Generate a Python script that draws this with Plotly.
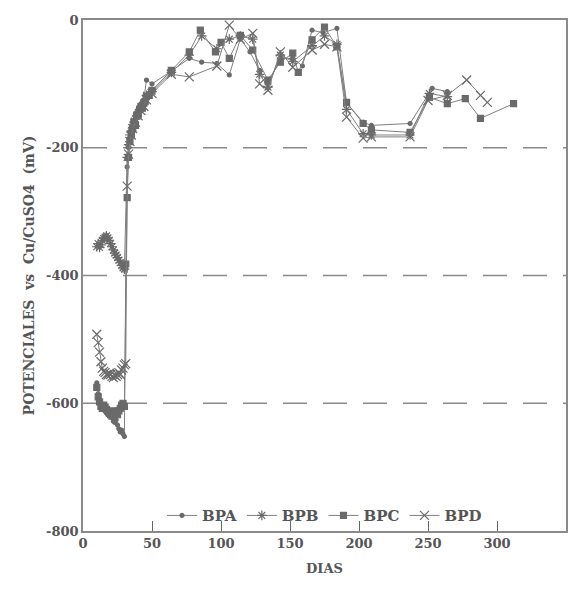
import plotly.graph_objects as go

# ---------------- data ----------------
bpa_days = [10, 11, 12, 13, 14, 15, 16, 17, 18, 19, 20, 21, 22, 23, 24, 25, 26, 27, 28, 29, 30, 31,
            32, 33, 34, 35, 36, 37, 38, 39, 40, 42, 44, 46, 50, 64, 77, 86, 97, 106, 114, 121, 128,
            134, 143, 152, 159, 166, 174, 184, 191, 203, 209, 237, 253, 264]
bpa_vals = [-568, -585, -598, -604, -606, -610, -612, -615, -618, -620, -616, -622, -628, -630, -626,
            -634, -640, -645, -642, -648, -652, -390,
            -230, -200, -185, -170, -160, -165, -150, -145, -140, -132, -125, -94, -100, -80, -60,
            -66, -68, -86, -30, -50, -79, -100, -60, -60, -72, -16, -20, -13, -130, -160, -165,
            -162, -107, -112]

bpb_days = [10, 11, 12, 13, 14, 15, 16, 17, 18, 19, 20, 21, 22, 23, 24, 25, 26, 27, 28, 29, 30,
            32, 33, 34, 35, 36, 37, 38, 39, 40, 42, 44, 46, 50, 64, 77, 86, 97, 106, 114, 123, 128,
            134, 143, 152, 166, 175, 184, 191, 203, 209, 237, 251, 264]
bpb_vals = [-355, -350, -356, -352, -345, -342, -340, -338, -341, -345, -350, -355, -360, -365, -368,
            -372, -376, -380, -384, -388, -390,
            -215, -195, -180, -175, -168, -160, -155, -150, -145, -138, -130, -118, -112, -82, -55,
            -25, -45, -30, -25, -30, -85, -105, -55, -65, -40, -25, -38, -140, -178, -180, -180,
            -115, -120]

bpc_days = [10, 11, 12, 13, 14, 15, 16, 17, 18, 19, 20, 21, 22, 23, 24, 25, 26, 27, 28, 29, 30, 31,
            32, 33, 34, 35, 36, 37, 38, 39, 40, 41, 42, 43, 44, 45, 46, 48, 50, 64, 77, 85, 96, 100,
            106, 114, 123, 134, 143, 152, 156, 166, 175, 184, 191, 203, 209, 237, 251, 264, 277,
            288, 312]
bpc_vals = [-575, -590, -598, -605, -608, -603, -606, -610, -612, -615, -618, -620, -614, -612, -615,
            -618, -612, -608, -603, -600, -605, -382,
            -278, -215, -190, -178, -170, -160, -165, -150, -148, -140, -135, -138, -130, -128,
            -120, -118, -110, -79, -50, -16, -50, -35, -60, -24, -47, -94, -66, -52, -82, -31,
            -11, -42, -129, -162, -172, -176, -121, -131, -123, -154, -131]

bpd_days = [10, 11, 12, 13, 14, 15, 16, 17, 18, 19, 20, 21, 22, 23, 24, 25, 26, 27, 28, 29, 30, 31,
            32, 33, 34, 35, 36, 38, 40, 42, 44, 46, 50, 64, 77, 97, 106, 114, 123, 128, 134, 143,
            152, 166, 175, 184, 191, 203, 209, 237, 250, 264, 278, 288, 293]
bpd_vals = [-492, -505, -520, -535, -545, -550, -552, -555, -556, -553, -555, -558, -560, -556, -558,
            -555, -552, -555, -548, -545, -540, -538,
            -260, -210, -190, -180, -170, -160, -150, -142, -135, -125, -115, -85, -89, -72, -8,
            -30, -21, -100, -110, -50, -74, -47, -38, -42, -152, -185, -183, -183, -126, -118,
            -94, -118, -129]

series = [
    ("BPA", bpa_days, bpa_vals, "circle", 4),
    ("BPB", bpb_days, bpb_vals, "asterisk-open", 8),
    ("BPC", bpc_days, bpc_vals, "square", 6),
    ("BPD", bpd_days, bpd_vals, "x-thin-open", 9),
]

x_ticks = [0, 50, 100, 150, 200, 250, 300, 350]
y_ticks = [0, -200, -400, -600, -800]
grid_levels = [-200, -400, -600]

# ---------------- figure ----------------
FONT = "DejaVu Serif"
TXT = "#555555"

fig = go.Figure()
for name, xs, ys, sym, size in series:
    fig.add_trace(go.Scatter(
        x=xs, y=ys, name=name, mode="lines+markers",
        line=dict(color="#808080", width=1),
        marker=dict(symbol=sym, size=size, color="#6a6a6a",
                    line=dict(color="#6a6a6a", width=1.2)),
    ))

for g in grid_levels:
    fig.add_shape(type="line", xref="paper", yref="y", x0=0, x1=1, y0=g, y1=g,
                  line=dict(color="#8a8a8a", width=1.5, dash="24px,16px"), layer="below")

fig.update_layout(
    width=579, height=589,
    margin=dict(l=83, r=13, t=20, b=58),
    plot_bgcolor="white", paper_bgcolor="white",
    font=dict(family=FONT, color=TXT, size=13),
    showlegend=True,
    legend=dict(orientation="h", x=0.5, xanchor="center", y=0.03, yanchor="middle",
                bgcolor="rgba(0,0,0,0)",
                font=dict(family=FONT, size=15, color=TXT, weight="bold"),
                itemwidth=30, tracegroupgap=0),
)
fig.update_xaxes(
    range=[0, 350], tickvals=x_ticks, ticktext=[str(v) for v in x_ticks],
    ticks="inside", ticklen=10, tickcolor="#666", tickwidth=1.2,
    showline=True, linecolor="#8a8a8a", linewidth=1.5, mirror=True,
    showgrid=False, zeroline=False,
    tickfont=dict(family=FONT, size=13, color=TXT, weight="bold"),
    title=dict(text="DIAS", font=dict(family=FONT, size=13, color=TXT, weight="bold"),
               standoff=14),
)
fig.update_yaxes(
    range=[-800, 0], tickvals=y_ticks, ticktext=[str(v) for v in y_ticks],
    ticks="", showline=True, linecolor="#8a8a8a", linewidth=1.5, mirror=True,
    showgrid=False, zeroline=False,
    tickfont=dict(family=FONT, size=13, color=TXT, weight="bold"),
    title=dict(text="POTENCIALES  vs  Cu/CuSO4  (mV)",
               font=dict(family=FONT, size=14, color=TXT, weight="bold"), standoff=8),
)

fig.write_html("out.html")
